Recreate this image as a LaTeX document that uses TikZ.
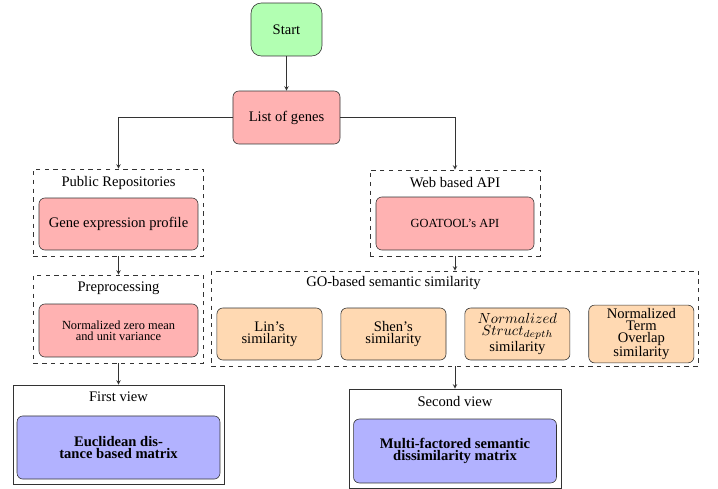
\documentclass[tikz,border=0pt]{standalone}
\usepackage{fontspec}
\setmainfont{Liberation Serif}
\usepackage{xcolor}
\usetikzlibrary{arrows, positioning}
\tikzset{
  >=stealth, % small filled arrow heads
  link/.style={->, draw=black!80},
  box/.style={draw=black!80, rounded corners=4pt, align=center,
    inner sep=2pt, font=\fontsize{10}{8.2}\selectfont},
  startbox/.style={box, fill=green!30, rounded corners=7pt},
  redbox/.style={box, fill=red!30},
  simbox/.style={box, fill=orange!30},
  viewbox/.style={box, fill=blue!30, font=\bfseries\fontsize{10}{8.2}\selectfont},
  % frames round the groups of boxes
  frame/.style={draw=black!80, dashed, inner sep=0pt},
  viewframe/.style={draw=black!80, inner sep=0pt},
  title/.style={inner sep=2pt, font=\fontsize{10}{12}\selectfont},
  smalltext/.style={font=\fontsize{8.5}{7.4}\selectfont},
}

\begin{document}
\begin{tikzpicture}[x=0.685pt, y=-0.685pt, node distance=84.9pt]
    \useasboundingbox (0,0) rectangle (718,489);

    \node[startbox, minimum width=48.6pt, minimum height=36.3pt] (start) at (286.5,29.5) {Start};
    \node[redbox, minimum width=73.3pt, minimum height=36.3pt] (genes) at (286.5,117.5) {List of genes};

    % left branch
    \node[frame, minimum width=116.5pt, minimum height=59.6pt] (pubfr) at (118.5,212.5) {};
    \node[title, below=3pt] (pubtl) at (pubfr.north) {Public Repositories};
    \node[redbox, minimum width=108.9pt, minimum height=35.6pt] (gexp) at (118.5,224) {Gene expression profile};

    \node[frame, minimum width=116.5pt, minimum height=60.3pt] (prefr) at (118.5,319) {};
    \node[title, below=3pt] (pretl) at (prefr.north) {Preprocessing};
    \node[redbox, smalltext, minimum width=108.9pt, minimum height=36.3pt] (norm) at (118.5,330.5) {Normalized zero mean\\and unit variance};

    \node[viewframe, minimum width=144.5pt, minimum height=67.8pt] (firstfr) at (118.5,434.5) {};
    \node[title, below=3pt] (firsttl) at (firstfr.north) {First view};
    \node[viewbox, minimum width=139pt, minimum height=43.2pt] (eucl) at (118.5,447.5) {Euclidean dis-\\tance based matrix};

    % right branch
    \node[frame, minimum width=116.5pt, minimum height=58.9pt] (webfr) at (455,213) {};
    \node[title, below=3pt] (webtl) at (webfr.north) {Web based API};
    \node[redbox, smalltext, minimum width=108.2pt, minimum height=36.3pt] (goat) at (455,223.5) {GOATOOL's API};

    \node[frame, minimum width=333.6pt, minimum height=65.1pt] (gofr) at (455,318.5) {};
    \node[simbox, minimum width=72pt, minimum height=35.6pt] (lin) at (269.5,334) {Lin's\\similarity};
    \node[simbox, minimum width=72pt, minimum height=35.6pt, right of=lin] (shen) {Shen's\\similarity};
    \node[simbox, minimum width=72pt, minimum height=35.6pt, right of=shen] (struct) {$Normalized$\\$Struct_{depth}$\\similarity};
    \node[simbox, minimum width=72pt, minimum height=35.6pt, right of=struct] (term) {Normalized\\Term\\Overlap\\similarity};
    \node[title, below=2pt] (gotl) at (gofr.north -| shen) {GO-based semantic similarity};

    \node[viewframe, minimum width=145.2pt, minimum height=67.8pt] (secondfr) at (455,438.5) {};
    \node[title, below=3pt] (secondtl) at (secondfr.north) {Second view};
    \node[viewbox, minimum width=139pt, minimum height=43.8pt] (multi) at (455,451) {Multi-factored semantic\\dissimilarity matrix};

    \draw[link] (start) -- (genes);
    \draw[link] (genes) -| (pubfr);
    \draw[link] (genes) -| (webfr);
    \draw[link] (pubfr) -- (prefr);
    \draw[link] (prefr) -- (firstfr);
    \draw[link] (webfr) -- (gofr);
    \draw[link] (gofr) -- (secondfr);

  \end{tikzpicture}
\end{document}
